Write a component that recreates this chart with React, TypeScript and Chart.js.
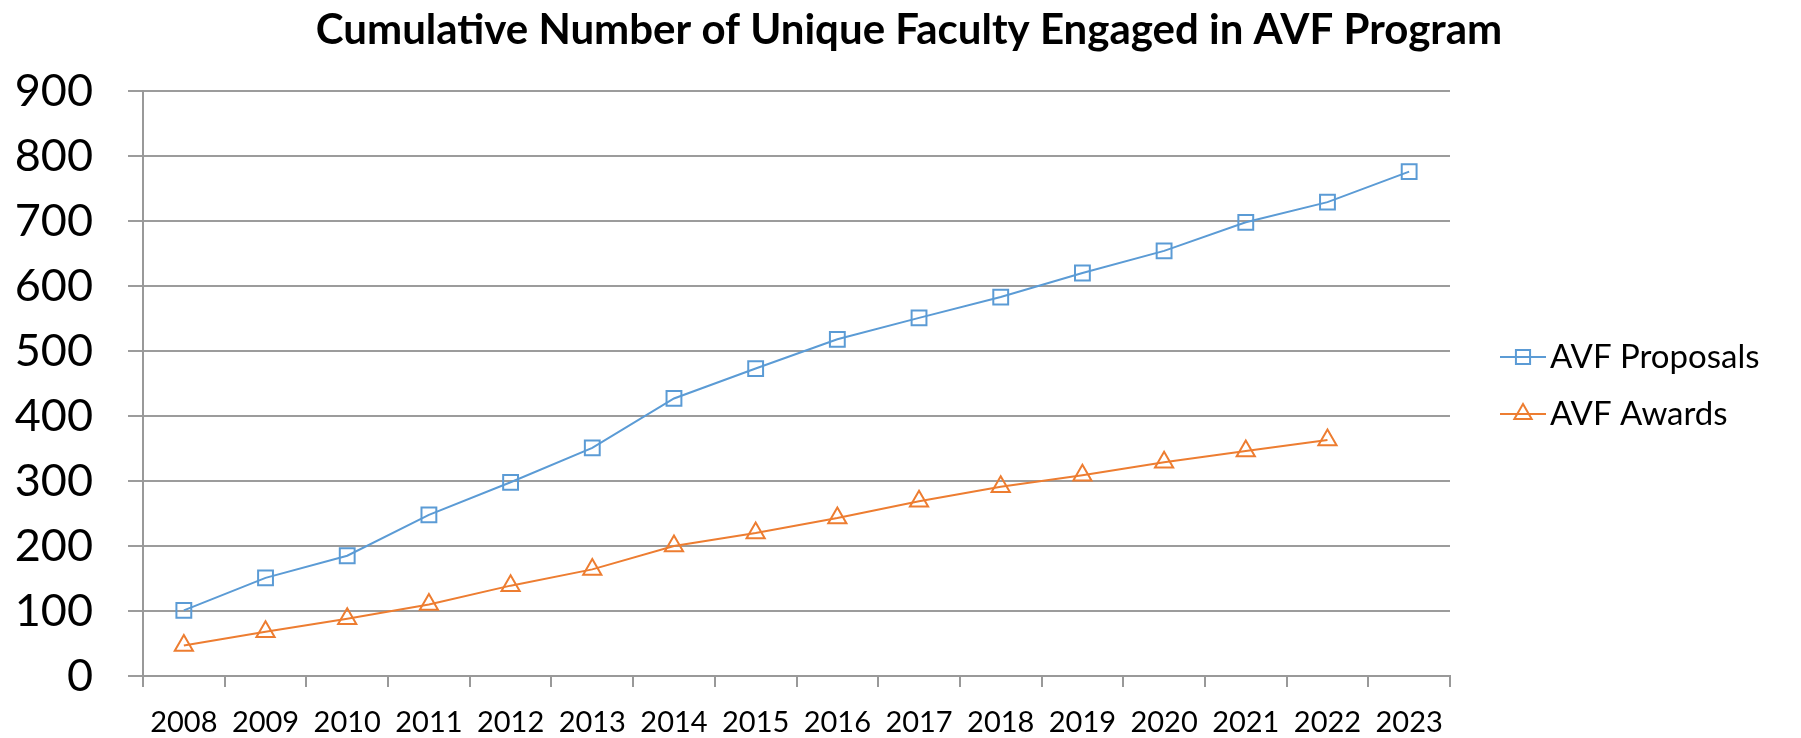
import React, { useEffect, useRef } from 'react';
import { Chart, registerables } from 'chart.js';

Chart.register(...registerables);

const titleText = 'Cumulative Number of Unique Faculty Engaged in AVF Program';
const years = ['2008', '2009', '2010', '2011', '2012', '2013', '2014', '2015', '2016', '2017', '2018', '2019', '2020', '2021', '2022', '2023'];
const proposals = [101, 151, 185, 248, 298, 351, 427, 473, 518, 551, 583, 620, 654, 698, 729, 776];
const awards: (number | null)[] = [47, 68, 88, 110, 139, 164, 200, 220, 243, 269, 291, 309, 329, 346, 363, null];
const seriesNames = ['AVF Proposals', 'AVF Awards'];
const seriesColors = ['#5B9BD5', '#ED7D31'];
const seriesMarkers = ['rect', 'triangle'];
const yMin = 0;
const yMax = 900;
const yStep = 100;

const FONT = 'Lato, "Open Sans", sans-serif';

function drawMarker(ctx: CanvasRenderingContext2D, style: string, x: number, y: number, r: number) {
  ctx.beginPath();
  if (style === 'rect') {
    const s = Math.SQRT1_2 * r;
    ctx.rect(x - s, y - s, 2 * s, 2 * s);
  } else {
    let rad = 0;
    ctx.moveTo(x + Math.sin(rad) * r, y - Math.cos(rad) * r);
    rad += (2 * Math.PI) / 3;
    ctx.lineTo(x + Math.sin(rad) * r, y - Math.cos(rad) * r);
    rad += (2 * Math.PI) / 3;
    ctx.lineTo(x + Math.sin(rad) * r, y - Math.cos(rad) * r);
    ctx.closePath();
  }
  ctx.stroke();
}

const titleAndLegend = {
  id: 'titleAndLegend',
  afterDraw(chart: any) {
    const { ctx, chartArea } = chart;
    ctx.save();
    ctx.fillStyle = '#000';
    ctx.font = `bold 42px ${FONT}`;
    ctx.textAlign = 'center';
    ctx.textBaseline = 'middle';
    ctx.fillText(titleText, 909, 30);
    ctx.restore();

    const mid = (chartArea.top + chartArea.bottom) / 2 + 2;
    chart.data.datasets.forEach((ds: any, i: number) => {
      const y = mid + (i - 0.5) * 57;
      const x0 = chartArea.right + 50;
      ctx.save();
      ctx.strokeStyle = ds.borderColor;
      ctx.lineWidth = 2;
      ctx.beginPath();
      ctx.moveTo(x0, y);
      ctx.lineTo(x0 + 46, y);
      ctx.stroke();
      drawMarker(ctx, ds.pointStyle, x0 + 23, y, 10);
      ctx.fillStyle = '#000';
      ctx.font = `33px ${FONT}`;
      ctx.textAlign = 'left';
      ctx.textBaseline = 'middle';
      ctx.fillText(ds.label, x0 + 50, y);
      ctx.restore();
    });
  },
};

export default function App() {
  const ref = useRef<HTMLCanvasElement | null>(null);

  useEffect(() => {
    if (!ref.current) return;
    const chart = new Chart(ref.current, {
      type: 'line',
      data: {
        labels: years,
        datasets: [proposals, awards].map((vals, i) => ({
          label: seriesNames[i],
          data: vals,
          borderColor: seriesColors[i],
          backgroundColor: seriesColors[i],
          borderWidth: 2,
          tension: 0,
          pointStyle: seriesMarkers[i] as any,
          pointRadius: 10.5,
          pointBorderWidth: 2,
          pointBorderColor: seriesColors[i],
          pointBackgroundColor: 'rgba(0,0,0,0)',
          fill: false,
        })),
      },
      options: {
        responsive: false,
        animation: false,
        devicePixelRatio: 1,
        layout: { padding: { left: 0, right: 351, top: 91, bottom: 0 } },
        plugins: {
          legend: { display: false },
          tooltip: { enabled: false },
          title: { display: false },
        },
        scales: {
          x: {
            type: 'category',
            offset: true,
            grid: { offset: true, drawOnChartArea: false, drawTicks: true, tickLength: 11, color: '#999', lineWidth: 2 },
            border: { display: true, color: '#999', width: 2 },
            ticks: { color: '#000', font: { family: FONT, size: 29 }, padding: 18, maxRotation: 0, autoSkip: false },
            afterFit(scale: any) {
              scale.height = 59;
            },
          },
          y: {
            min: yMin,
            max: yMax,
            ticks: { stepSize: yStep, color: '#000', font: { family: FONT, size: 45 }, padding: 35 },
            grid: { color: '#9C9C9C', lineWidth: 2, tickLength: 15, drawTicks: true },
            border: { display: true, color: '#999', width: 2 },
            afterFit(scale: any) {
              scale.width = 143;
            },
          },
        },
      },
      plugins: [titleAndLegend],
    });
    return () => chart.destroy();
  }, []);

  return (
    <canvas
      ref={ref}
      width={1801}
      height={738}
      style={{ position: 'fixed', left: 0, top: 0, width: 1801, height: 738, background: '#fff' }}
    />
  );
}
